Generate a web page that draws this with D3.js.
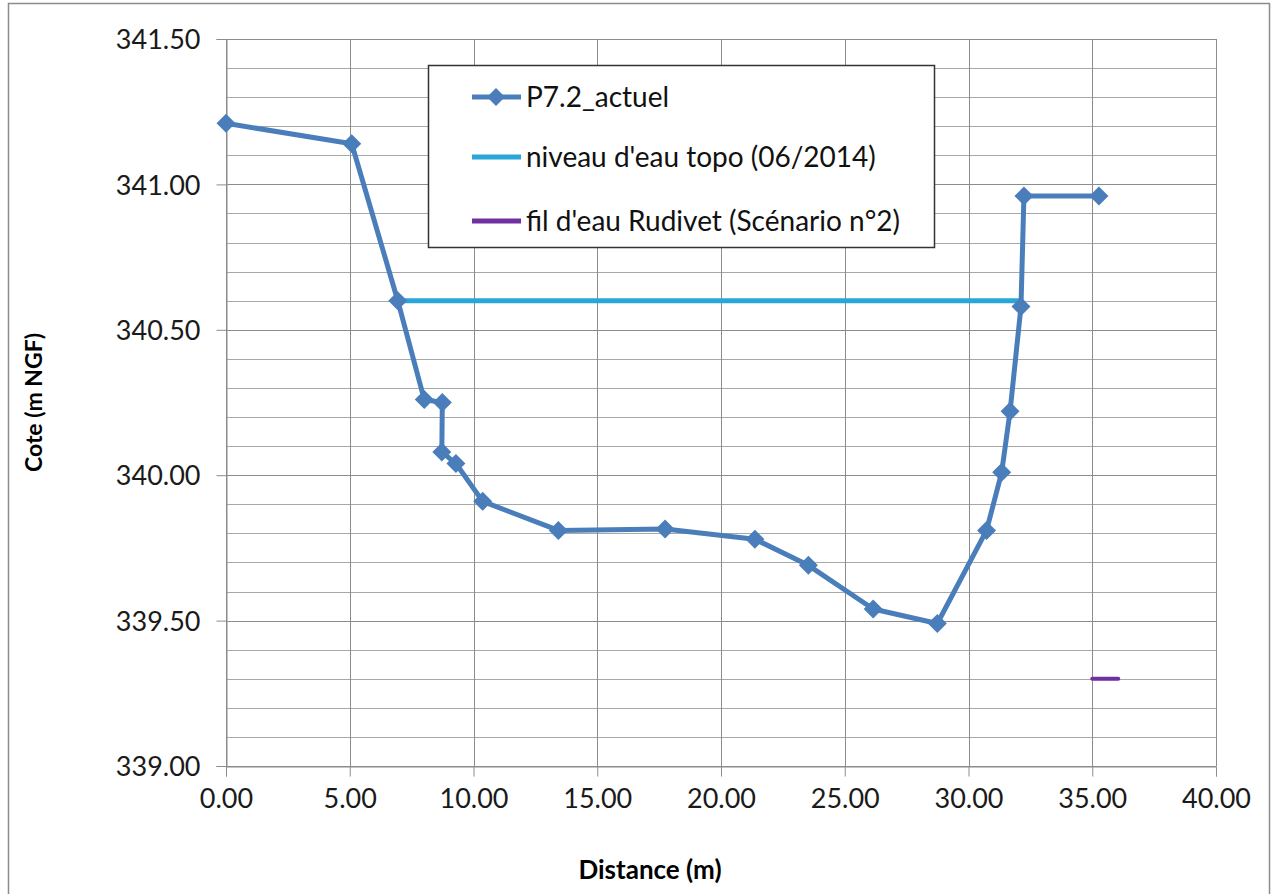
<!DOCTYPE html>
<html>
<head>
<meta charset="utf-8">
<script src="https://cdn.jsdelivr.net/npm/d3@7"></script>
<style>
  body { margin: 0; background: #fff; }
  svg { display: block; font-family: Lato, "Open Sans", sans-serif; }
</style>
</head>
<body>
<div id="chart"></div>
<script>
// profil en travers P7.2
var distance = [0, 5.08, 6.94, 8.01, 8.74, 8.72, 9.29, 10.37, 13.43, 17.74, 21.37, 23.53, 26.15, 28.74, 30.73, 31.34, 31.68, 32.12, 32.24, 35.27];
var cote = [341.21, 341.14, 340.60, 340.26, 340.25, 340.08, 340.04, 339.91, 339.81, 339.815, 339.78, 339.69, 339.54, 339.49, 339.81, 340.01, 340.22, 340.58, 340.96, 340.96];
var niveauX = [6.94, 32.12];
var niveauY = [340.60, 340.60];
var filX = [35.0, 36.05];
var filY = [339.30, 339.30];
var xTicks = [0, 5, 10, 15, 20, 25, 30, 35, 40];
var yTicks = [339.0, 339.5, 340.0, 340.5, 341.0, 341.5];
var legendLabels = ['P7.2_actuel', "niveau d'eau topo (06/2014)", "fil d'eau Rudivet (Scénario n°2)"];

(function(){
var width = 1278, height = 894;
var plotLeft = 226, plotRight = 1216, plotTop = 39, plotBottom = 766;

var svg = d3.select('#chart').append('svg').attr('width', width).attr('height', height);

// cadre
svg.append('rect').attr('x', 8.5).attr('y', 3.5).attr('width', 1261).attr('height', 900)
  .style('fill', '#fff').style('stroke', '#8c8c8c').style('stroke-width', 1.5);

var x = d3.scaleLinear().domain([0, 40]).range([plotLeft, plotRight]);
var y = d3.scaleLinear().domain([339, 341.5]).range([plotBottom, plotTop]);

// minor grid every 0.1
var minor = d3.range(0, 26).map(function(i){ return 339 + i * 0.1; });
svg.append('g').selectAll('line').data(minor).enter().append('line')
  .attr('x1', plotLeft).attr('x2', plotRight)
  .attr('y1', function(d){ return Math.round(y(d)) + 0.5; })
  .attr('y2', function(d){ return Math.round(y(d)) + 0.5; })
  .style('stroke', '#a8a8a8').style('stroke-width', 1);

svg.append('g').selectAll('line').data(xTicks).enter().append('line')
  .attr('x1', function(d){ return Math.round(x(d)) + 0.5; })
  .attr('x2', function(d){ return Math.round(x(d)) + 0.5; })
  .attr('y1', plotTop).attr('y2', plotBottom)
  .style('stroke', '#8c8c8c').style('stroke-width', 1);

svg.append('g').selectAll('line').data(yTicks).enter().append('line')
  .attr('x1', plotLeft).attr('x2', plotRight)
  .attr('y1', function(d){ return Math.round(y(d)) + 0.5; })
  .attr('y2', function(d){ return Math.round(y(d)) + 0.5; })
  .style('stroke', '#8c8c8c').style('stroke-width', 1);

// axes
var xAxis = d3.axisBottom(x).tickValues(xTicks).tickSize(10).tickPadding(12).tickFormat(d3.format('.2f'));
var yAxis = d3.axisLeft(y).tickValues(yTicks).tickSize(10).tickPadding(16).tickFormat(d3.format('.2f'));

var gx = svg.append('g').attr('transform', 'translate(0,' + (plotBottom + 0.5) + ')').call(xAxis);
var gy = svg.append('g').attr('transform', 'translate(' + (plotLeft + 0.5) + ',0)').call(yAxis);
[gx, gy].forEach(function(g){
  g.select('.domain').style('stroke', '#8c8c8c');
  g.selectAll('.tick line').style('stroke', '#8c8c8c');
  g.selectAll('text').style('font-size', '27px').style('fill', '#1a1a1a').style('font-family', 'Lato, sans-serif');
});
gy.selectAll('text').attr('dy', '0.36em');

// titres
svg.append('text').attr('x', 650).attr('y', 879)
  .attr('text-anchor', 'middle').style('font-weight', 'bold').style('font-size', '26px')
  .text('Distance (m)');
svg.append('text').attr('transform', 'translate(42,' + ((plotTop + plotBottom) / 2) + ') rotate(-90)')
  .attr('text-anchor', 'middle').style('font-weight', 'bold').style('font-size', '23px')
  .text('Cote (m NGF)');

// series
var pts = distance.map(function(d, i){ return [d, cote[i]]; });
var line = d3.line().x(function(d){ return x(d[0]); }).y(function(d){ return y(d[1]); });

svg.append('path').datum(niveauX.map(function(d, i){ return [d, niveauY[i]]; }))
  .attr('d', line).style('fill', 'none').style('stroke', '#2ba6d9').style('stroke-width', 5);

svg.append('path').datum(filX.map(function(d, i){ return [d, filY[i]]; }))
  .attr('d', line).style('fill', 'none').style('stroke', '#7030a0').style('stroke-width', 4)
  .style('stroke-linecap', 'round');

svg.append('path').datum(pts).attr('d', line)
  .style('fill', 'none').style('stroke', '#4a7ebb').style('stroke-width', 5).style('stroke-linejoin', 'round');

var diamond = function(cx, cy, h){
  return 'M' + cx + ',' + (cy - h) + 'L' + (cx + h) + ',' + cy + 'L' + cx + ',' + (cy + h) + 'L' + (cx - h) + ',' + cy + 'Z';
};
svg.append('g').selectAll('path').data(pts).enter().append('path')
  .attr('d', function(d){ return diamond(x(d[0]), y(d[1]), 9.5); })
  .style('fill', '#4a7ebb');

// legende
var lg = svg.append('g');
lg.append('rect').attr('x', 428.5).attr('y', 65.5).attr('width', 506).attr('height', 182)
  .style('fill', '#fff').style('stroke', '#333').style('stroke-width', 1.5);
var legendColors = ['#4a7ebb', '#2ba6d9', '#7030a0'];
var legendRows = [97, 157, 221];
legendLabels.forEach(function(lab, i){
  var cy = legendRows[i];
  lg.append('line').attr('x1', 472).attr('x2', 521).attr('y1', cy).attr('y2', cy)
    .style('stroke', legendColors[i]).style('stroke-width', 5);
  if(i === 0){
    lg.append('path').attr('d', diamond(496, cy, 9)).style('fill', legendColors[0]);
  }
  lg.append('text').attr('x', 526).attr('y', cy).attr('dy', '0.35em')
    .style('font-size', '28px').style('fill', '#111').text(lab);
});
})();
</script>
</body>
</html>
